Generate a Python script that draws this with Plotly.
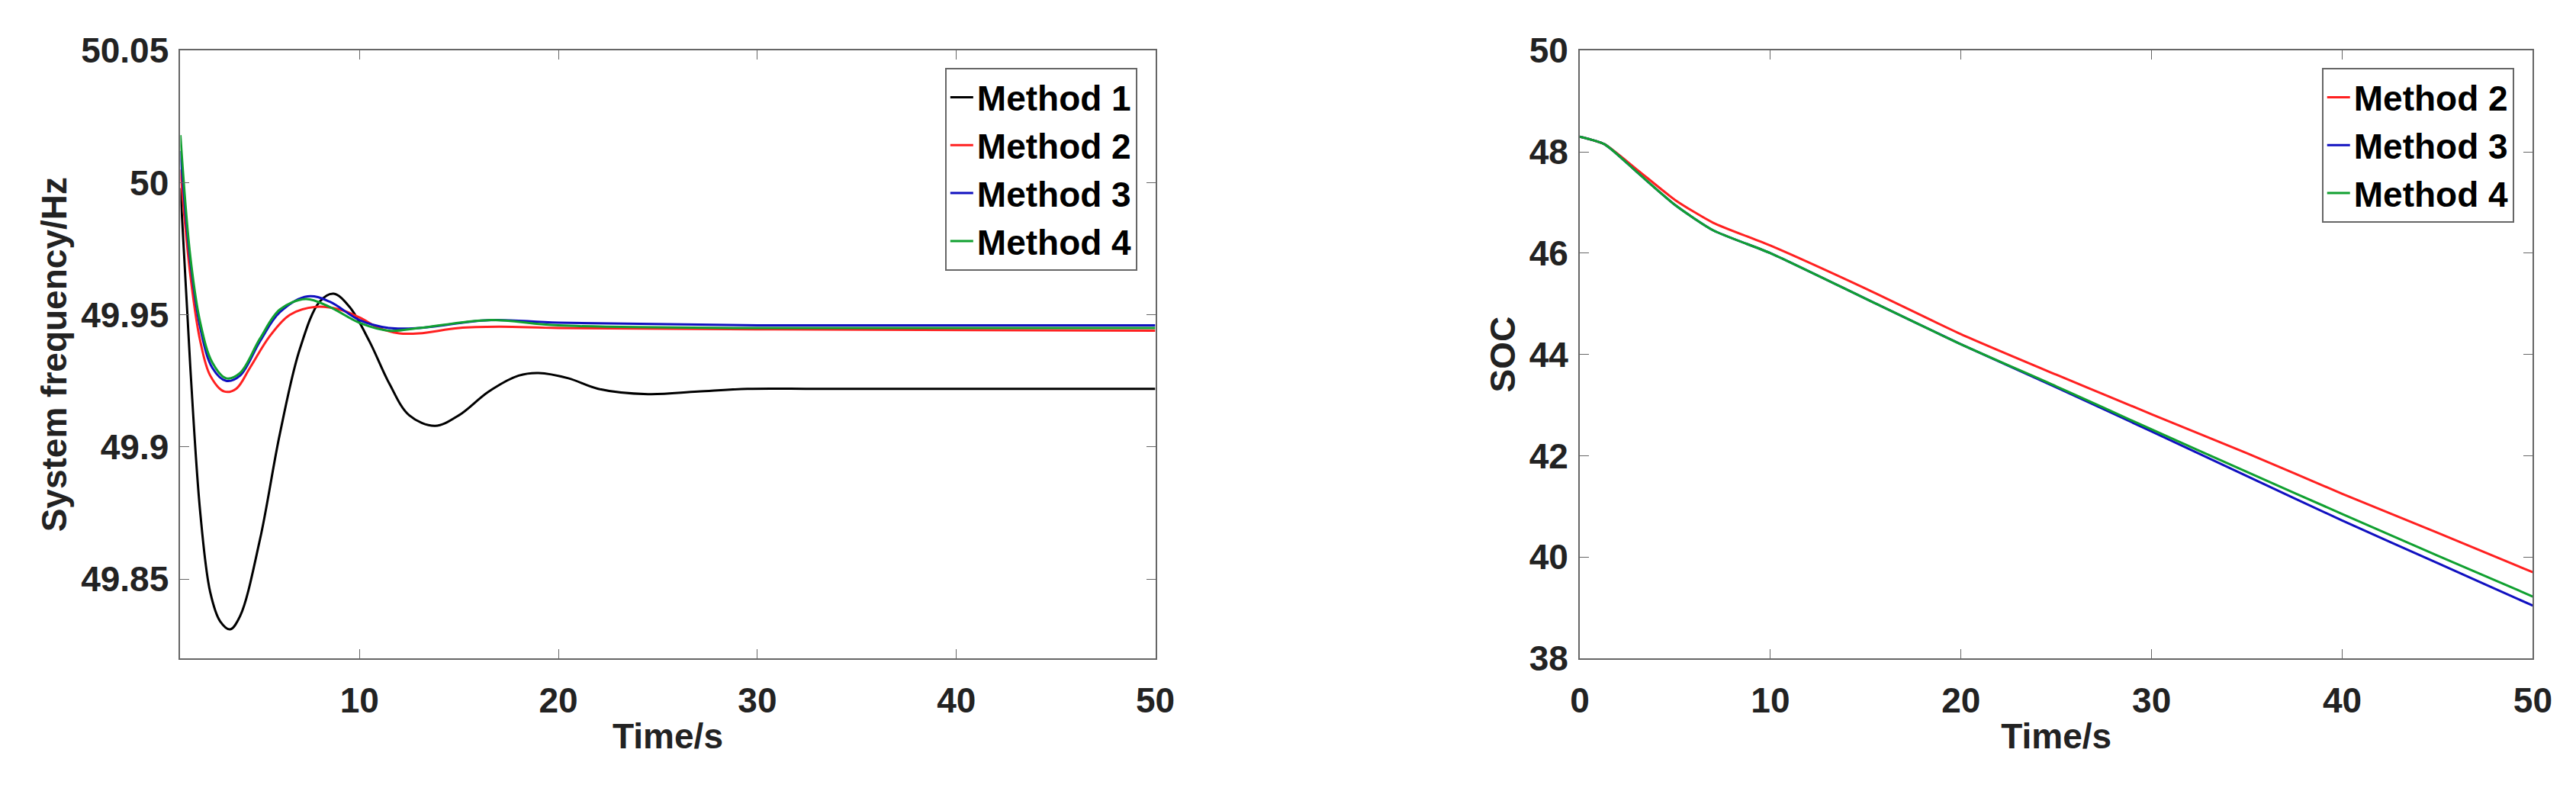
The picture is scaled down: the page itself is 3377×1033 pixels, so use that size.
import plotly.graph_objects as go
from plotly.subplots import make_subplots

# Left: system frequency
t1 = [1, 1.5, 2, 2.5, 3, 3.5, 4, 5, 6, 7, 8, 8.7, 9.5, 10.5, 11.5, 12.5, 13.8, 15, 16.5, 18, 19, 20.5, 22, 24.5, 27, 29.5, 33, 40, 50]
f1 = [49.998, 49.93, 49.875, 49.845, 49.834, 49.831, 49.836, 49.865, 49.905, 49.937, 49.955, 49.958, 49.953, 49.94, 49.924, 49.912, 49.908, 49.912, 49.921, 49.927, 49.928, 49.926, 49.922, 49.920, 49.921, 49.922, 49.922, 49.922, 49.922]
t2 = [1, 1.5, 2, 2.5, 3.2, 3.8, 4.5, 5.5, 6.5, 7.8, 9, 10, 11, 12, 13, 15, 17, 20, 30, 50]
f2 = [50.005, 49.965, 49.94, 49.927, 49.921, 49.922, 49.93, 49.942, 49.95, 49.953, 49.952, 49.949, 49.945, 49.943, 49.943, 49.945, 49.9455, 49.945, 49.9445, 49.944]
t3 = [1, 1.5, 2, 2.6, 3.3, 4, 5, 6, 7.4, 8.5, 10, 11.5, 13, 16.5, 20, 30, 50]
f3 = [50.012, 49.97, 49.945, 49.93, 49.925, 49.927, 49.94, 49.951, 49.957, 49.955, 49.948, 49.945, 49.945, 49.948, 49.947, 49.946, 49.946]
t4 = [1, 1.5, 2, 2.6, 3.3, 4, 5, 6, 7.3, 8.5, 10, 11.5, 13, 16.5, 20, 30, 50]
f4 = [50.018, 49.972, 49.947, 49.932, 49.926, 49.928, 49.941, 49.952, 49.956, 49.953, 49.947, 49.944, 49.945, 49.948, 49.946, 49.945, 49.945]

# Right: SOC
ts = [0, 1.3, 3, 5, 7, 10, 15, 20, 25, 30, 35, 40, 45, 50]
soc2 = [48.3, 48.15, 47.65, 47.05, 46.6, 46.15, 45.3, 44.4, 43.6, 42.82, 42.05, 41.25, 40.48, 39.70]
soc3 = [48.3, 48.15, 47.6, 46.95, 46.45, 46.0, 45.1, 44.2, 43.35, 42.48, 41.6, 40.72, 39.88, 39.04]
soc4 = [48.3, 48.15, 47.6, 46.95, 46.45, 46.0, 45.1, 44.2, 43.37, 42.52, 41.68, 40.85, 40.03, 39.22]

x1_ticks = [10, 20, 30, 40, 50]
y1_ticks = [49.85, 49.9, 49.95, 50, 50.05]
y1_labels = ["49.85", "49.9", "49.95", "50", "50.05"]
x2_ticks = [0, 10, 20, 30, 40, 50]
y2_ticks = [38, 40, 42, 44, 46, 48, 50]

colors = {"Method 1": "#000000", "Method 2": "#ff2020", "Method 3": "#1010c0", "Method 4": "#10a030"}

fig = make_subplots(rows=1, cols=2)
for name, x, y in [("Method 1", t1, f1), ("Method 2", t2, f2), ("Method 3", t3, f3), ("Method 4", t4, f4)]:
    fig.add_trace(go.Scatter(x=x, y=y, name="<b>%s</b>" % name, mode="lines", line=dict(color=colors[name], width=3, shape="spline", smoothing=1.0), legend="legend"), row=1, col=1)
for name, y in [("Method 2", soc2), ("Method 3", soc3), ("Method 4", soc4)]:
    fig.add_trace(go.Scatter(x=ts, y=y, name="<b>%s</b>" % name, mode="lines", line=dict(color=colors[name], width=3, shape="spline", smoothing=0.6), legend="legend2"), row=1, col=2)

font = dict(family="Liberation Sans, Arial", size=46, color="#222222")
axcommon = dict(showline=True, linecolor="#666666", linewidth=2, mirror="ticks", ticks="inside", ticklen=12, tickcolor="#666666", showgrid=False, zeroline=False, tickfont=font, title_font=font)
fig.update_xaxes(**axcommon, ticklabelstandoff=14, title_standoff=6)
fig.update_yaxes(**axcommon, ticklabelstandoff=4, title_standoff=4)
fig.update_xaxes(range=[1, 50], tickvals=x1_ticks, ticktext=["<b>%d</b>" % v for v in x1_ticks], title_text="<b>Time/s</b>", row=1, col=1)
fig.update_yaxes(range=[49.82, 50.05], tickvals=y1_ticks, ticktext=["<b>%s</b>" % s for s in y1_labels], title_text="<b>System frequency/Hz</b>", row=1, col=1)
fig.update_xaxes(range=[0, 50], tickvals=x2_ticks, ticktext=["<b>%d</b>" % v for v in x2_ticks], title_text="<b>Time/s</b>", row=1, col=2)
fig.update_yaxes(range=[38, 50], tickvals=y2_ticks, ticktext=["<b>%d</b>" % v for v in y2_ticks], title_text="<b>SOC</b>", row=1, col=2)

W, H = 3377, 1033
legfont = dict(family="Liberation Sans, Arial", size=46, color="black")
fig.update_layout(
    width=W, height=H, plot_bgcolor="white", paper_bgcolor="white",
    margin=dict(l=0, r=0, t=0, b=0),
    xaxis=dict(domain=[218 / W, 1511 / W]),
    xaxis2=dict(domain=[2074 / W, 3338 / W]),
    yaxis=dict(domain=[1 - 873 / H, 1 - 34 / H]),
    yaxis2=dict(domain=[1 - 873 / H, 1 - 34 / H]),
    legend=dict(x=1487 / W, y=1 - 58 / H, xanchor="right", yanchor="top", bordercolor="#666666", borderwidth=2, bgcolor="white", font=legfont, itemwidth=30, tracegroupgap=0),
    legend2=dict(x=3313 / W, y=1 - 58 / H, xanchor="right", yanchor="top", bordercolor="#666666", borderwidth=2, bgcolor="white", font=legfont, itemwidth=30),
)
fig.write_html("out.html")
